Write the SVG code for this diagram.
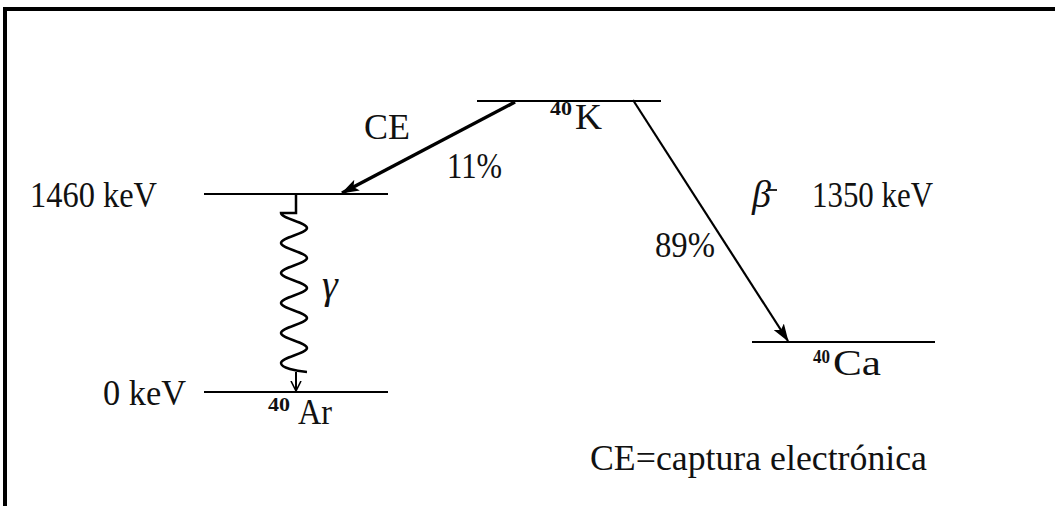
<svg xmlns="http://www.w3.org/2000/svg" width="1055" height="506" viewBox="0 0 1055 506">
<style>
.t{font-family:"Liberation Serif","Times New Roman",serif;font-size:35px;fill:#111}
.s{font-family:"Liberation Serif","Times New Roman",serif;font-size:19px;fill:#111;font-weight:bold}
.lv{stroke:#000;stroke-width:2;fill:none}
.i{font-style:italic}
</style>
<defs>
<marker id="ahBig" markerWidth="18" markerHeight="12" refX="17" refY="6" orient="auto" markerUnits="userSpaceOnUse">
<path d="M0,0 L18,6 L0,12 L4,6 z" fill="#000"/>
</marker>
<marker id="ahOpen" markerWidth="12" markerHeight="12" refX="10" refY="6" orient="auto" markerUnits="userSpaceOnUse">
<path d="M0,1 L10,6 L0,11" fill="none" stroke="#000" stroke-width="1.6"/>
</marker>
</defs>
<rect width="1055" height="506" fill="#fff"/>
<g id="frame">
<rect x="3" y="7" width="1052" height="4" fill="#000"/>
<rect x="3" y="7" width="4" height="499" fill="#000"/>
</g>
<g id="K40">
<line class="lv" x1="477" y1="101" x2="661" y2="101"/>
<text class="s" x="550" y="115" textLength="22" lengthAdjust="spacingAndGlyphs">40</text>
<text class="t" x="575" y="129" textLength="27" lengthAdjust="spacingAndGlyphs">K</text>
</g>
<g id="Ar1460">
<line class="lv" x1="204" y1="194" x2="388" y2="194"/>
<text class="t" x="30" y="207" textLength="127" lengthAdjust="spacingAndGlyphs">1460 keV</text>
</g>
<g id="Ar0">
<line class="lv" x1="204" y1="392" x2="388" y2="392"/>
<text class="t" x="103" y="405" textLength="83" lengthAdjust="spacingAndGlyphs">0 keV</text>
<text class="s" x="268" y="411" textLength="22" lengthAdjust="spacingAndGlyphs">40</text>
<text class="t" x="298" y="424" textLength="34" lengthAdjust="spacingAndGlyphs">Ar</text>
</g>
<g id="Ca40">
<line class="lv" x1="752" y1="342" x2="935" y2="342"/>
<text class="s" x="813" y="363" textLength="17" lengthAdjust="spacingAndGlyphs">40</text>
<text class="t" x="833" y="375" textLength="48" lengthAdjust="spacingAndGlyphs">Ca</text>
</g>
<g id="connectors">
<line x1="515" y1="102" x2="342" y2="193" stroke="#000" stroke-width="3.5" marker-end="url(#ahBig)"/>
<line x1="633" y1="100" x2="788" y2="341" stroke="#000" stroke-width="2.2" marker-end="url(#ahBig)"/>
<path d="M296,194 V213 H281 C281,218.5 307,222.5 307,228 C307,233.5 281,237.5 281,243 C281,248.5 307,252.5 307,258 C307,263.5 281,267.5 281,273 C281,278.5 307,282.5 307,288 C307,293.5 281,297.5 281,303 C281,308.5 307,312.5 307,318 C307,323.5 281,327.5 281,333 C281,338.5 307,342.5 307,348 C307,353.5 281,357.5 281,363 C281,368 296,371 307,372" fill="none" stroke="#000" stroke-width="2.5"/>
<line x1="296" y1="372" x2="296" y2="391" stroke="#000" stroke-width="2" marker-end="url(#ahOpen)"/>
</g>
<g id="labels">
<text class="t" x="364" y="139" textLength="46" lengthAdjust="spacingAndGlyphs">CE</text>
<text class="t" x="447" y="178" textLength="55" lengthAdjust="spacingAndGlyphs">11%</text>
<text class="t i" x="322" y="298" style="font-size:40px">γ</text>
<text class="t i" x="752" y="207" style="font-size:38px">β</text>
<line x1="766" y1="190" x2="777" y2="190" stroke="#111" stroke-width="1.8"/>
<text class="t" x="812" y="207" textLength="121" lengthAdjust="spacingAndGlyphs">1350 keV</text>
<text class="t" x="655" y="257" textLength="60" lengthAdjust="spacingAndGlyphs">89%</text>
<text class="t" x="590" y="470" textLength="337" lengthAdjust="spacingAndGlyphs">CE=captura electrónica</text>
</g>
</svg>
